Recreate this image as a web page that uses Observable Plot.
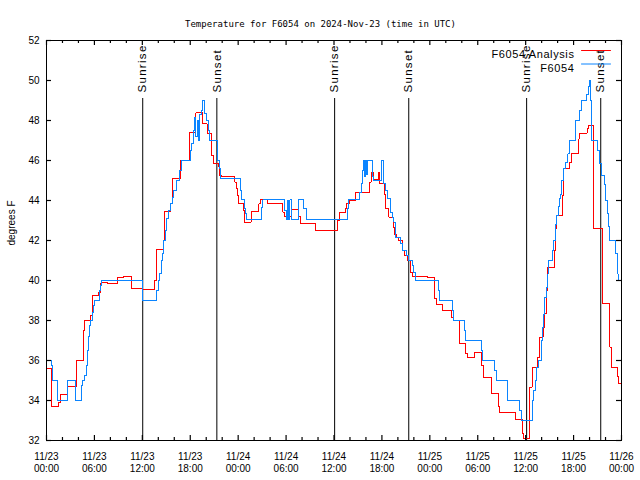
<!DOCTYPE html>
<html><head><meta charset="utf-8">
<script src="https://cdn.jsdelivr.net/npm/d3@7"></script>
<script src="https://cdn.jsdelivr.net/npm/@observablehq/plot@0.6"></script>
<style>
body{margin:0;background:#fff}
</style>
</head><body><div id="chart"></div>
<script>
// Hours since 2024-11-23 00:00 UTC and temperature (degrees F)
const analysisHours = [0,0.58,1.55,1.75,2.67,3.71,4.59,4.7,5.5,5.72,5.8,6.55,6.76,6.89,7.6,8.85,9.68,10.6,11.98,13.52,13.77,14.6,14.78,15.53,15.74,16.78,17.86,18.7,19.5,20.1,20.66,20.87,21.58,21.7,21.9,23.58,23.79,23.88,24.0,24.63,24.79,25.63,26.59,26.8,27.72,29.6,29.8,30.64,31.6,31.8,33.68,36.45,36.69,37.44,37.57,37.98,38.69,40.49,40.66,40.9,41.53,41.7,42.3,42.45,42.87,43.4,43.58,43.83,44.12,44.54,44.8,45.24,45.58,45.79,47.75,48.63,48.8,49.63,50.71,51.0,51.72,52.47,52.68,53.59,54.47,54.68,55.72,56.64,56.76,58.73,59.57,59.77,60.52,60.82,61.52,61.77,62.19,62.4,62.61,62.78,63.61,63.74,63.82,64.66,64.78,65.53,65.74,66.66,66.78,67.7,67.83,68.53,69.62,70.54,70.71,71.54,71.67,72];
const analysisTemps = [35.6,33.7,33.9,34.3,34.7,36.0,37.5,38.0,38.25,38.85,39.25,39.42,39.83,39.88,39.83,40.13,40.2,39.58,39.53,40.0,41.53,42.0,43.47,43.83,45.08,46.0,47.38,48.38,47.83,47.33,46.25,45.83,45.7,45.25,45.2,44.92,44.58,44.25,43.83,43.5,42.92,43.47,43.83,44.07,43.83,43.42,43.2,43.53,43.2,42.87,42.5,43.0,43.42,43.6,43.83,44.0,44.42,44.92,45.42,45.03,45.4,44.83,44.3,43.58,43.17,42.67,42.3,42.17,42.0,41.5,41.25,41.0,40.42,40.2,40.13,39.08,38.8,38.5,38.17,38.0,36.83,36.37,36.13,36.42,35.75,35.17,34.37,33.7,33.38,33.05,32.33,32.08,34.67,35.63,36.17,37.17,37.67,38.33,39.5,40.67,41.5,42.58,43.25,44.25,45.58,45.9,46.33,47.08,47.37,47.58,47.75,42.6,38.83,36.67,35.67,35.2,34.83,34.83];
const obsHours = [0,0.58,0.7,0.79,1.42,2.59,3.63,4.34,4.45,4.7,4.97,5.1,5.3,5.42,5.5,5.71,5.93,6.05,6.68,6.76,6.85,11.98,13.77,14.06,14.19,14.36,14.48,14.6,14.9,15.03,15.24,15.53,15.74,15.94,16.28,16.7,16.87,18.03,18.16,18.37,18.57,18.7,18.85,19.0,19.15,19.4,19.57,19.82,20.03,20.24,20.45,21.45,21.62,21.79,24.3,24.45,24.79,24.92,25.04,26.88,27.09,29.84,30.05,30.22,30.34,30.47,30.64,31.51,32.22,32.56,37.65,37.78,39.23,39.4,39.61,39.74,39.86,39.94,40.07,40.15,40.78,40.9,41.95,42.16,42.24,42.45,42.74,43.08,43.29,43.49,43.7,44.33,44.54,45.08,45.29,45.79,45.99,46.2,49.04,49.25,50.8,51.0,52.34,52.47,54.43,54.56,56.14,56.31,57.69,57.77,59.27,59.44,60.82,60.9,61.02,61.23,61.36,61.65,61.94,62.07,62.28,62.4,62.61,62.78,62.9,63.32,63.44,63.74,63.86,64.07,64.24,64.36,64.49,64.7,64.99,65.28,65.53,66.24,66.74,66.95,67.58,67.83,67.99,68.12,68.24,69.04,69.29,69.46,69.91,69.99,70.2,70.41,70.54,71.25,71.46,71.58,72];
const obsTemps = [36.0,35.75,35.25,35.0,34.0,35.0,34.0,34.75,35.0,35.25,35.75,36.5,37.2,37.75,38.0,38.42,38.75,39.0,39.5,39.75,40.0,39.0,39.5,40.0,40.33,41.0,41.33,42.0,42.5,43.08,43.5,43.83,44.17,44.5,45.0,45.5,46.0,46.5,46.83,47.5,48.17,47.2,48.0,47.0,48.3,48.5,49.0,48.33,48.0,47.5,47.0,46.0,45.6,45.1,44.5,44.03,43.6,43.33,43.03,43.67,44.03,43.5,43.03,44.0,43.03,44.03,43.03,44.03,43.6,43.03,43.6,44.03,44.4,44.83,45.5,46.0,45.2,46.0,45.3,46.0,45.2,45.0,46.0,45.5,44.83,44.5,44.08,43.4,43.17,42.92,42.17,41.83,41.5,41.25,41.0,40.75,40.42,40.0,39.5,39.0,38.5,38.0,37.5,37.0,36.5,36.0,35.5,35.0,34.5,34.0,33.5,33.0,33.5,34.0,34.5,35.0,35.67,36.0,37.0,37.67,38.3,39.17,39.67,40.33,41.0,41.5,42.0,42.8,43.25,43.7,44.08,44.3,45.0,45.58,45.9,46.33,47.0,48.0,48.5,49.0,49.3,49.7,50.0,49.0,47.0,46.5,45.83,45.25,44.8,44.0,43.33,42.7,42.0,41.33,40.33,40.0,40.0];

const seriesNames = ["F6054 Analysis", "F6054"];
const seriesColors = ["#ff0000", "#0a84ff"];
const sunHours = [12.05, 21.33, 36.08, 45.36, 60.12, 69.40];
const sunNames = ["Sunrise", "Sunset", "Sunrise", "Sunset", "Sunrise", "Sunset"];
const xTickHours = [0, 6, 12, 18, 24, 30, 36, 42, 48, 54, 60, 66, 72];
const xTickLabels = ["11/23\n00:00","11/23\n06:00","11/23\n12:00","11/23\n18:00","11/24\n00:00","11/24\n06:00","11/24\n12:00","11/24\n18:00","11/25\n00:00","11/25\n06:00","11/25\n12:00","11/25\n18:00","11/26\n00:00"];
const xMinorHours = [2,4,8,10,14,16,20,22,26,28,32,34,38,40,44,46,50,52,56,58,62,64,68,70];
const yTicks = [32,34,36,38,40,42,44,46,48,50,52];
const titleText = "Temperature for F6054 on 2024-Nov-23 (time in UTC)";
const yLabel = "degrees F";

const analysis = analysisHours.map((h, i) => ({h, t: analysisTemps[i]}));
const observed = obsHours.map((h, i) => ({h, t: obsTemps[i]}));
const suns = sunHours.map((h, i) => ({h, name: sunNames[i]}));

const W = 640, H = 480, mL = 46, mR = 19, mT = 40, mB = 40;
const fw = W - mL - mR, fh = H - mT - mB;
const majorLen = 5, minorLen = 3;

const hline = {draw(ctx, l) { ctx.moveTo(0, 0); ctx.lineTo(0, -l); }};

const legendMarks = seriesNames.flatMap((name, i) => [
  Plot.text([name], {frameAnchor: "top-right", dx: -47, dy: 10 + 13.5 * i, textAnchor: "end", fontSize: 11, fill: "#000"}),
  Plot.vector([name], {frameAnchor: "top-right", dx: -40, dy: 10 + 13.5 * i, rotate: 90, length: 29, anchor: "start", shape: hline, stroke: seriesColors[i], strokeWidth: 1})
]);

const chart = Plot.plot({
  width: W, height: H,
  marginLeft: mL, marginRight: mR, marginTop: mT, marginBottom: mB,
  style: {fontFamily: "'Liberation Sans', Arial, sans-serif", fontSize: "10px", color: "#000", background: "#fff"},
  x: {domain: [0, 72], label: null, axis: null},
  y: {domain: [32, 52], label: null, axis: null},
  marks: [
    Plot.ruleX(suns, {x: "h", y1: 32, y2: 49.1, stroke: "#000", strokeWidth: 1}),
    Plot.text(suns, {x: "h", y: 49.4, text: "name", rotate: -90, textAnchor: "start", fontSize: 11.5, fill: "#000"}),
    Plot.line(analysis, {x: "h", y: "t", curve: "step-after", stroke: seriesColors[0], strokeWidth: 1, shapeRendering: "crispEdges"}),
    Plot.line(observed, {x: "h", y: "t", curve: "step-after", stroke: seriesColors[1], strokeWidth: 1, shapeRendering: "crispEdges"}),
    Plot.axisX(xTickHours, {anchor: "bottom", tickSize: 0, tickPadding: 11, lineHeight: 1.2, tickFormat: d => xTickLabels[xTickHours.indexOf(d)], label: null}),
    Plot.axisY(yTicks, {anchor: "left", tickSize: 0, tickPadding: 7, label: null}),
    // inward ticks on all four sides
    Plot.ruleX(xTickHours, {x: d => d, insetTop: fh - majorLen, stroke: "#000", strokeWidth: 1.2}),
    Plot.ruleX(xTickHours, {x: d => d, insetBottom: fh - majorLen, stroke: "#000", strokeWidth: 1.2}),
    Plot.ruleX(xMinorHours, {x: d => d, insetTop: fh - minorLen, stroke: "#000", strokeWidth: 1.2}),
    Plot.ruleX(xMinorHours, {x: d => d, insetBottom: fh - minorLen, stroke: "#000", strokeWidth: 1.2}),
    Plot.ruleY(yTicks, {y: d => d, insetRight: fw - majorLen, stroke: "#000", strokeWidth: 1.2}),
    Plot.ruleY(yTicks, {y: d => d, insetLeft: fw - majorLen, stroke: "#000", strokeWidth: 1.2}),
    Plot.frame({stroke: "#000", strokeWidth: 1}),
    Plot.text([titleText], {frameAnchor: "top", dx: -13.5, dy: -20, fontFamily: "'DejaVu Sans Mono', monospace", fontSize: 9, fill: "#000"}),
    Plot.text([yLabel], {frameAnchor: "left", dx: -35, dy: 5, rotate: -90, fontSize: 10, fill: "#000"}),
    ...legendMarks
  ]
});
// widen letter spacing of the sunrise/sunset and legend labels, as in the original rendering
d3.select(chart).selectAll("text")
  .filter(function() { return sunNames.includes(this.textContent); })
  .style("letter-spacing", "1.3px");
d3.select(chart).selectAll("text")
  .filter(function() { return seriesNames.includes(this.textContent); })
  .style("letter-spacing", "0.6px");
document.getElementById("chart").appendChild(chart);
</script>
</body></html>
